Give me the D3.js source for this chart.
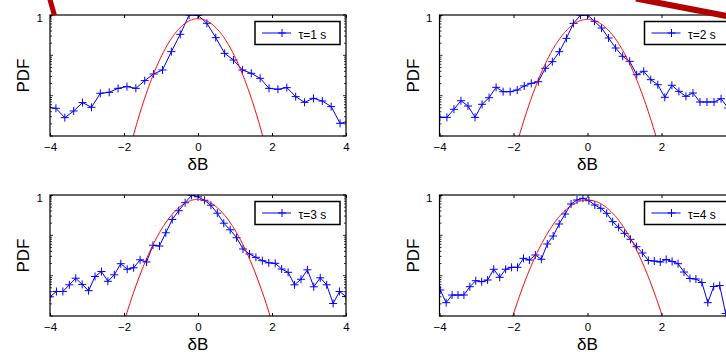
<!DOCTYPE html>
<html>
<head>
<meta charset="utf-8">
<script src="https://cdn.jsdelivr.net/npm/d3@7"></script>
<style>
  html, body { margin: 0; padding: 0; background: #fff; }
  svg { display: block; font-family: "Liberation Sans", Arial, sans-serif; }
</style>
</head>
<body>
<script>
// Increment PDFs of δB for four time lags, log-scaled, each with a Gaussian fit.

const xTicks = [-4, -2, 0, 2, 4];
const yTickValues = [1];
const yTickLabels = ["1"];
const tauLabels = ["τ=1 s", "τ=2 s", "τ=3 s", "τ=4 s"];

// τ = 1 s
const dB1 = [-4.08, -3.84, -3.6, -3.36, -3.12, -2.88, -2.64, -2.4, -2.16, -1.92, -1.68, -1.44,
  -1.2, -0.96, -0.72, -0.48, -0.24, 0, 0.24, 0.48, 0.72, 0.96, 1.2, 1.44, 1.68, 1.92, 2.16,
  2.4, 2.64, 2.88, 3.12, 3.36, 3.6, 3.84, 4.08];
const pdf1 = [0.0052, 0.00486, 0.00285, 0.00417, 0.00673, 0.00514, 0.01145, 0.0121, 0.0152,
  0.0168, 0.0152, 0.0236, 0.0345, 0.0434, 0.1236, 0.332, 1.0, 0.98, 0.623, 0.275, 0.112,
  0.0766, 0.0433, 0.0358, 0.0269, 0.0152, 0.0144, 0.0158, 0.00946, 0.00684, 0.00859,
  0.00737, 0.00535, 0.00206, 0.0023];

// τ = 2 s
const dB2 = [-3.99, -3.8, -3.61, -3.42, -3.23, -3.04, -2.85, -2.66, -2.47, -2.28, -2.09, -1.9,
  -1.71, -1.52, -1.33, -1.14, -0.95, -0.76, -0.57, -0.38, -0.19, 0, 0.19, 0.38, 0.57, 0.76,
  0.95, 1.14, 1.33, 1.52, 1.71, 1.9, 2.09, 2.28, 2.47, 2.66, 2.85, 3.04, 3.23, 3.42, 3.61,
  3.8, 3.99];
const pdf2 = [0.0029, 0.0029, 0.00459, 0.0075, 0.00554, 0.0029, 0.0061, 0.0089, 0.0161,
  0.01255, 0.01255, 0.0138, 0.0174, 0.0202, 0.0222, 0.0477, 0.0697, 0.123, 0.264, 0.62,
  0.99, 1.0, 0.698, 0.476, 0.269, 0.152, 0.0946, 0.0711, 0.0331, 0.0402, 0.0249, 0.0187,
  0.0091, 0.0181, 0.0128, 0.00963, 0.01164, 0.00697, 0.00697, 0.00697, 0.0084, 0.00494,
  0.004];

// τ = 3 s
const dB3 = [-4.0, -3.826, -3.652, -3.478, -3.304, -3.13, -2.957, -2.783, -2.609, -2.435,
  -2.261, -2.087, -1.913, -1.739, -1.565, -1.391, -1.217, -1.043, -0.87, -0.696, -0.522,
  -0.348, -0.174, 0, 0.174, 0.348, 0.522, 0.696, 0.87, 1.043, 1.217, 1.391, 1.565, 1.739,
  1.913, 2.087, 2.261, 2.435, 2.609, 2.783, 2.957, 3.13, 3.304, 3.478, 3.652, 3.826, 4.0];
const pdf3 = [0.00299, 0.00405, 0.00405, 0.00593, 0.00865, 0.00607, 0.00424, 0.00953,
  0.01268, 0.00724, 0.0105, 0.0198, 0.01445, 0.01567, 0.0247, 0.0218, 0.0569, 0.0543,
  0.1156, 0.247, 0.408, 0.644, 0.98, 0.9, 0.739, 0.558, 0.354, 0.2, 0.137, 0.0874, 0.0458,
  0.0344, 0.0285, 0.0235, 0.0208, 0.0202, 0.0146, 0.0121, 0.00593, 0.00813, 0.01397,
  0.0053, 0.00885, 0.00593, 0.00204, 0.00405, 0.00304];

// τ = 4 s
const dB4 = [-3.98, -3.82, -3.66, -3.5, -3.34, -3.18, -3.02, -2.86, -2.7, -2.534, -2.373,
  -2.212, -2.052, -1.891, -1.73, -1.57, -1.409, -1.248, -1.087, -0.927, -0.766, -0.605,
  -0.445, -0.284, -0.123, 0.038, 0.198, 0.359, 0.52, 0.68, 0.841, 1.002, 1.162, 1.323,
  1.484, 1.645, 1.805, 1.966, 2.127, 2.287, 2.448, 2.609, 2.769, 2.93, 3.091, 3.252, 3.412,
  3.573, 3.734, 3.894, 4.055];
const pdf4 = [0.00441, 0.00214, 0.00331, 0.00331, 0.00331, 0.00532, 0.0075, 0.00708, 0.0078,
  0.0144, 0.0091, 0.0144, 0.0161, 0.0161, 0.0269, 0.0244, 0.0325, 0.0255, 0.061, 0.0962,
  0.191, 0.338, 0.598, 0.751, 0.828, 0.722, 0.565, 0.468, 0.352, 0.218, 0.158, 0.112,
  0.0797, 0.0523, 0.0365, 0.0238, 0.0231, 0.0218, 0.0252, 0.0225, 0.0198, 0.0123, 0.0085,
  0.00826, 0.00676, 0.00214, 0.00538, 0.0057, 0.00115, 0.0008, 0.0015];

// Gaussian fit parameters (peak height and standard deviation) per lag
const fitPeak = [0.81, 0.78, 0.78, 0.75];
const fitSigma = [0.478, 0.506, 0.534, 0.555];

const W = 726, H = 352;
const plotW = 296, plotH = 121;
const blue = "#0000ff", red = "#ff0000", annot = "#b30000";

const panels = [
  { left: 50,    top: 15,  xs: dB1, ys: pdf1 },
  { left: 439.5, top: 15,  xs: dB2, ys: pdf2 },
  { left: 50,    top: 195, xs: dB3, ys: pdf3 },
  { left: 439.5, top: 195, xs: dB4, ys: pdf4 }
];

const svg = d3.select("body").append("svg")
  .attr("width", W).attr("height", H)
  .attr("viewBox", `0 0 ${W} ${H}`);

const plusPath = "M-4,0H4M0,-4V4";

panels.forEach((p, i) => {
  const x = d3.scaleLinear().domain([-4, 4]).range([p.left, p.left + plotW]);
  const y = d3.scaleLog().domain([1e-3, 1]).range([p.top + plotH, p.top]);
  const g = svg.append("g");

  const clipId = "clip" + i;
  svg.append("clipPath").attr("id", clipId)
    .append("rect")
    .attr("x", p.left).attr("y", p.top)
    .attr("width", plotW).attr("height", plotH);

  g.append("rect")
    .attr("x", p.left).attr("y", p.top)
    .attr("width", plotW).attr("height", plotH)
    .attr("fill", "#fff");

  const pts = p.xs.map((d, k) => [d, p.ys[k]]);
  const data = g.append("g").attr("clip-path", `url(#${clipId})`);

  // measured PDF
  data.append("path")
    .attr("d", d3.line().x(d => x(d[0])).y(d => y(Math.max(d[1], 1e-5)))(pts))
    .attr("fill", "none").attr("stroke", blue).attr("stroke-width", 1);
  data.selectAll("path.mk").data(pts).join("path")
    .attr("class", "mk")
    .attr("transform", d => `translate(${x(d[0])},${y(Math.max(d[1], 1e-5))})`)
    .attr("d", plusPath)
    .attr("stroke", blue).attr("stroke-width", 1).attr("fill", "none");

  // Gaussian fit
  const A = fitPeak[i], s = fitSigma[i];
  const fit = d3.range(-4, 4.0001, 0.02)
    .map(v => [v, A * Math.exp(-v * v / (2 * s * s))])
    .filter(d => d[1] > 2e-4);
  data.append("path")
    .attr("d", d3.line().x(d => x(d[0])).y(d => y(d[1]))(fit))
    .attr("fill", "none").attr("stroke", red).attr("stroke-width", 1);

  // axes: ticks point inward
  const xb = g.append("g").attr("transform", `translate(0,${p.top + plotH})`)
    .call(d3.axisBottom(x).tickValues(xTicks).tickFormat(d3.format("d"))
      .tickSizeInner(-3).tickSizeOuter(0).tickPadding(7));
  const xt = g.append("g").attr("transform", `translate(0,${p.top})`)
    .call(d3.axisTop(x).tickValues(xTicks).tickFormat("").tickSizeInner(-3).tickSizeOuter(0));
  const yl = g.append("g").attr("transform", `translate(${p.left},0)`)
    .call(d3.axisLeft(y).tickValues(yTickValues).tickFormat((d, k) => yTickLabels[k])
      .tickSizeInner(-3).tickSizeOuter(0).tickPadding(7));
  [xb, xt, yl].forEach(a => {
    a.select(".domain").remove();
    a.selectAll("line").attr("stroke", "#000");
    a.selectAll("text").attr("fill", "#000").style("font-size", "11.5px");
  });
  yl.selectAll("text").attr("dy", "0.55em");

  // log decade and minor ticks on both vertical sides
  const decades = [1e-3, 1e-2, 1e-1];
  decades.forEach(dec => {
    [dec].concat(d3.range(2, 10).map(m => m * dec)).forEach((v, k) => {
      const len = k === 0 ? 3 : 2;
      const yy = y(v);
      g.append("line").attr("x1", p.left).attr("x2", p.left + len)
        .attr("y1", yy).attr("y2", yy).attr("stroke", "#000").attr("stroke-width", 0.8);
      g.append("line").attr("x1", p.left + plotW).attr("x2", p.left + plotW - len)
        .attr("y1", yy).attr("y2", yy).attr("stroke", "#000").attr("stroke-width", 0.8);
    });
  });
  g.append("line").attr("x1", p.left + plotW).attr("x2", p.left + plotW - 3)
    .attr("y1", y(1)).attr("y2", y(1)).attr("stroke", "#000");

  // axes box
  g.append("rect")
    .attr("x", p.left).attr("y", p.top)
    .attr("width", plotW).attr("height", plotH)
    .attr("fill", "none").attr("stroke", "#000").attr("stroke-width", 1.2);

  // axis titles
  g.append("text")
    .attr("transform", `translate(${p.left - 21},${p.top + plotH / 2}) rotate(-90)`)
    .attr("text-anchor", "middle")
    .style("font-size", "17px")
    .text("PDF");
  g.append("text")
    .attr("x", p.left + plotW / 2).attr("y", p.top + 155)
    .attr("text-anchor", "middle")
    .style("font-size", "17px")
    .text("δB");

  // legend
  const lx = p.left + 205, ly = p.top + 6.5;
  g.append("rect").attr("x", lx).attr("y", ly).attr("width", 85).attr("height", 23)
    .attr("fill", "#fff").attr("stroke", "#000").attr("stroke-width", 1.5);
  g.append("line").attr("x1", lx + 7).attr("x2", lx + 36)
    .attr("y1", ly + 11.5).attr("y2", ly + 11.5)
    .attr("stroke", blue).attr("stroke-width", 1);
  g.append("path").attr("transform", `translate(${lx + 27},${ly + 11.5})`)
    .attr("d", plusPath).attr("stroke", blue).attr("fill", "none");
  g.append("text").attr("x", lx + 43.5).attr("y", ly + 17.5)
    .style("font-size", "12px").text(tauLabels[i]);
});

// red annotation strokes over the top of the figure
svg.append("line")
  .attr("x1", 49.5).attr("y1", -2).attr("x2", 54.5).attr("y2", 15.5)
  .attr("stroke", annot).attr("stroke-width", 5);
svg.append("line")
  .attr("x1", 636).attr("y1", -1.5).attr("x2", 732).attr("y2", 17)
  .attr("stroke", annot).attr("stroke-width", 6);
</script>
</body>
</html>
